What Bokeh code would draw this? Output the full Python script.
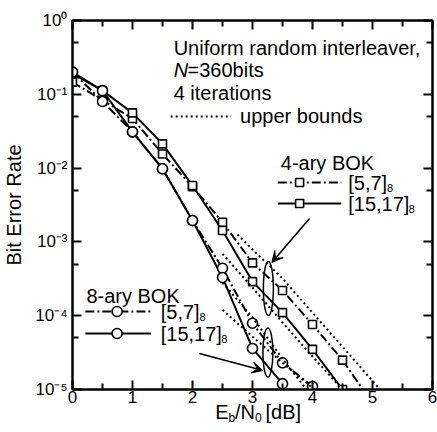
from bokeh.plotting import figure
from bokeh.models import Range1d, FixedTicker, LinearAxis, LogAxis, Label, Arrow, VeeHead
from bokeh.embed import file_html
from bokeh.resources import INLINE

# Eb/N0 grid (dB)
ebn0 = [0, 0.5, 1, 1.5, 2, 2.5, 3, 3.5, 4, 4.5, 5]

# Simulated BER, 4-ary BOK
ber4_57 = [0.146, 0.083, 0.047, 0.0155, 5.6e-3, 1.85e-3, 5.2e-4, 2.2e-4, 7.6e-5, 2.5e-5, 6.5e-6]
ber4_1517 = [0.19, 0.112, 0.056, 0.0213, 5.8e-3, 1.43e-3, 2.9e-4, 1.1e-4, 3.5e-5, 1.0e-5]

# Simulated BER, 8-ary BOK
ber8_57 = [0.2, 0.080, 0.031, 9.8e-3, 1.95e-3, 4.4e-4, 7.9e-5, 2.3e-5, 1.1e-5]
ber8_1517 = [0.2, 0.112, 0.031, 9.8e-3, 1.95e-3, 3.3e-4, 3.6e-5, 1.2e-5]

# Union upper bounds
bound4_57_x = [2.75, 3, 3.5, 4, 4.5, 5, 5.5]
bound4_57 = [1.26e-3, 7.9e-4, 3.2e-4, 1.1e-4, 3.8e-5, 1.3e-5, 4.6e-6]
bound4_1517_x = [2.5, 3, 3.5, 4, 4.5, 5]
bound4_1517 = [6.9e-4, 2.4e-4, 8.1e-5, 2.8e-5, 1.0e-5, 3.5e-6]
bound8_57_x = [2.5, 3, 3.5, 4]
bound8_57 = [2.8e-4, 9.5e-5, 2.6e-5, 7.9e-6]
bound8_1517_x = [2.5, 3, 3.5, 4, 4.5]
bound8_1517 = [1.2e-4, 5.2e-5, 2.3e-5, 1.05e-5, 4.7e-6]

x_ticks = [0, 1, 2, 3, 4, 5, 6]
x_minor = [0.5, 1.5, 2.5, 3.5, 4.5, 5.5]
y_exponents = [0, -1, -2, -3, -4, -5]
y_tick_labels = ["10⁰", "10⁻¹", "10⁻²", "10⁻³", "10⁻⁴", "10⁻⁵"]

FONT = "Liberation Sans"
W, H = 437, 432
L, R, T, B = 69, 432, 20, 389  # frame edges in canvas pixels


def dx(px):
    return (px - L) / (R - L) * 6.0


def dy(py):
    return 10 ** (-(py - T) / (B - T) * 5.0)


p = figure(width=W, height=H, x_range=Range1d(0, 6), y_range=Range1d(1e-5, 1),
           y_axis_type="log", output_backend="svg", toolbar_location=None,
           min_border_left=L, min_border_right=W - R, min_border_top=T, min_border_bottom=H - B)
p.xgrid.visible = False
p.ygrid.visible = False
p.outline_line_color = "black"
p.outline_line_width = 2
p.background_fill_color = "white"
p.border_fill_color = "white"

xt = FixedTicker(ticks=x_ticks, minor_ticks=x_minor)
y_major = [10.0 ** e for e in y_exponents]
yt = FixedTicker(ticks=y_major,
                 minor_ticks=[5 * 10.0 ** e for e in y_exponents[1:]] + [5e-6])


def style_axis(ax, labels):
    ax.axis_line_color = "black"
    ax.axis_line_width = 2
    ax.major_tick_line_width = 2
    ax.minor_tick_line_width = 2
    ax.major_tick_in = 9
    ax.major_tick_out = 0
    ax.minor_tick_in = 6
    ax.minor_tick_out = 0
    if not labels:
        ax.major_label_text_color = None
        ax.major_label_text_font_size = "8px"
        ax.major_label_standoff = 0


xa = p.xaxis[0]
xa.ticker = xt
style_axis(xa, True)
xa.major_label_text_font = FONT
xa.major_label_text_font_size = "17px"
xa.major_label_text_color = "black"
xa.major_label_standoff = 1

ya = p.yaxis[0]
ya.ticker = yt
style_axis(ya, True)
ya.major_label_overrides = {v: s for v, s in zip(y_major, y_tick_labels)}
ya.major_label_text_font = FONT
ya.major_label_text_font_size = "17px"
ya.major_label_text_color = "black"
ya.major_label_standoff = 5
ya.axis_label = "Bit Error Rate"
ya.axis_label_text_font = FONT
ya.axis_label_text_font_size = "20px"
ya.axis_label_text_font_style = "normal"
ya.axis_label_text_color = "black"
ya.axis_label_standoff = 7

top = LinearAxis(ticker=xt)
style_axis(top, False)
p.add_layout(top, "above")
right = LogAxis(ticker=yt)
style_axis(right, False)
p.add_layout(right, "right")


def text_axis(centers, pieces, size, standoff):
    """A bare axis under the x axis that only carries pieces of the x title."""
    ax = LinearAxis(ticker=FixedTicker(ticks=centers, minor_ticks=[]))
    ax.major_label_overrides = {c: s for c, s in zip(centers, pieces)}
    ax.axis_line_color = None
    ax.major_tick_line_color = None
    ax.minor_tick_line_color = None
    ax.major_tick_in = 0
    ax.major_tick_out = 0
    ax.major_label_text_font = FONT
    ax.major_label_text_font_size = f"{size}px"
    ax.major_label_text_color = "black"
    ax.major_label_standoff = standoff
    p.add_layout(ax, "below")


# x title "E_b/N_0 [dB]": main glyphs, then subscripts one row lower
text_axis([dx(219.7), dx(243), dx(281.5)], ["E", "/N", "[dB]"], 20, -5)
text_axis([dx(229.6), dx(256.4)], ["b", "0"], 12, -15)

DASHDOT = "9 3 2 3"
DOT = "2 3"

# simulated curves
curves = [
    (ebn0, ber4_57, DASHDOT, "square", 8),
    (ebn0[:len(ber4_1517)], ber4_1517, "solid", "square", 8),
    (ebn0[:len(ber8_57)], ber8_57, DASHDOT, "circle", 10),
    (ebn0[:len(ber8_1517)], ber8_1517, "solid", "circle", 10),
]
for xs, ys, dash, mk, sz in curves:
    p.line(xs, ys, line_color="black", line_width=2, line_dash=dash)
for xs, ys, dash, mk, sz in curves:
    p.scatter(xs, ys, marker=mk, size=sz, fill_color="white", line_color="black", line_width=1.6)

# upper bounds
for bx, by in [(bound4_57_x, bound4_57), (bound4_1517_x, bound4_1517),
               (bound8_57_x, bound8_57), (bound8_1517_x, bound8_1517)]:
    p.line(bx, by, line_color="black", line_width=2, line_dash=DOT)

# highlight ellipses and arrows
p.ellipse(x=dx(266.5), y=dy(288), width=10, height=54, width_units="screen",
          height_units="screen", fill_color=None, line_color="black", line_width=1.5)
p.ellipse(x=dx(266), y=dy(352), width=10, height=49, width_units="screen",
          height_units="screen", fill_color=None, line_color="black", line_width=1.5)
p.add_layout(Arrow(end=VeeHead(size=11, fill_color="black", line_color="black"),
                   x_start=dx(308), y_start=dy(218), x_end=dx(270), y_end=dy(262),
                   line_color="black", line_width=1.6))
p.add_layout(Arrow(end=VeeHead(size=11, fill_color="black", line_color="black"),
                   x_start=dx(197), y_start=dy(353), x_end=dx(261), y_end=dy(370),
                   line_color="black", line_width=1.6))


def text(px, py, s, size=20, align="left", baseline="middle", style="normal"):
    p.add_layout(Label(x=dx(px), y=dy(py), text=s, text_font=FONT, text_font_size=f"{size}px",
                       text_align=align, text_baseline=baseline, text_font_style=style,
                       text_color="black"))


# annotation block
text(171, 47, "Uniform random interleaver,")
text(171, 69, "N", style="italic")
text(185, 69, "=360bits")
text(171, 92, "4 iterations")
p.line([dx(168), dx(229)], [dy(116), dy(116)], line_color="black", line_width=2, line_dash=DOT)
text(238, 115, "upper bounds")

# 4-ary legend
text(279, 162, "4-ary BOK")
for py, dash, lab, sub_dx in [(182, DASHDOT, "[5,7]", 39), (203, "solid", "[15,17]", 61)]:
    p.line([dx(276), dx(340)], [dy(py), dy(py)], line_color="black", line_width=2, line_dash=dash)
    p.scatter([dx(298)], [dy(py)], marker="square", size=8, fill_color="white",
              line_color="black", line_width=1.6)
    text(347, py, lab)
    text(347 + sub_dx, py + 5, "8", size=11)

# 8-ary legend
text(83, 295, "8-ary BOK")
for py, dash, lab, sub_dx in [(311, DASHDOT, "[5,7]", 39), (333, "solid", "[15,17]", 61)]:
    p.line([dx(82), dx(148)], [dy(py), dy(py)], line_color="black", line_width=2, line_dash=dash)
    p.scatter([dx(114)], [dy(py)], marker="circle", size=10, fill_color="white",
              line_color="black", line_width=1.6)
    text(158, py, lab)
    text(158 + sub_dx, py + 5, "8", size=11)

open("out.html", "w").write(file_html(p, INLINE))
